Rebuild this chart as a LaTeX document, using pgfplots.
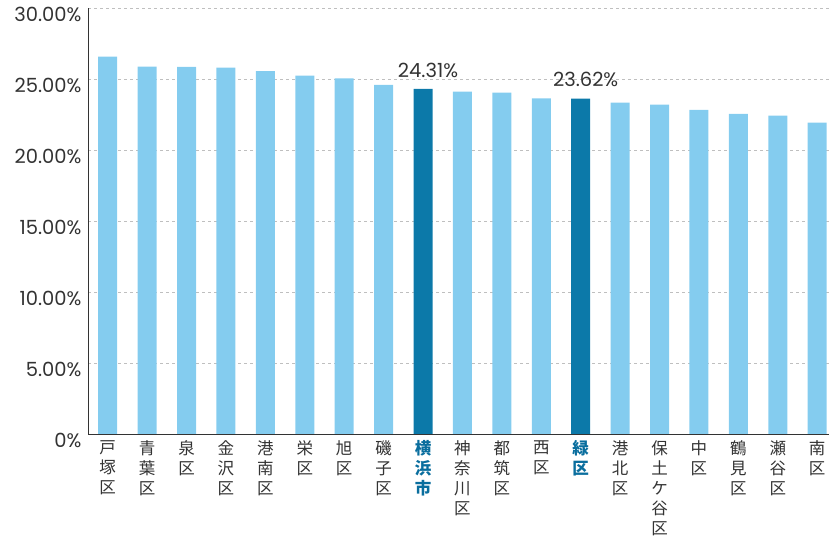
\documentclass[border=0pt]{standalone}
\usepackage{pgfplots}
\pgfplotsset{compat=1.18}
\usepackage{fontspec}
\setmainfont{Poppins}
\newfontfamily\cjk{Noto Sans CJK JP}
\definecolor{lightbar}{HTML}{84CCEF}
\definecolor{darkbar}{HTML}{0C79A9}
\definecolor{hl}{HTML}{0A6E9E}
\definecolor{txt}{HTML}{333333}
\newcommand{\hlb}[1]{{\color{hl}\bfseries #1}}
\begin{document}
\begin{tikzpicture}
\begin{axis}[
  scale only axis, width=741pt, height=426pt,
  xmin=-0.5, xmax=18.3, ymin=0, ymax=30,
  /pgf/number format/assume math mode=true,
  axis x line=bottom, axis y line=left,
  axis line style={-, draw=txt, line width=0.9pt},
  major tick length=0pt,
  ytick={0,5,10,15,20,25,30},
  yticklabels={0\%,5.00\%,10.00\%,15.00\%,20.00\%,25.00\%,30.00\%},
  yticklabel style={font=\fontsize{19.5}{22}\selectfont, text=txt, yshift=-6pt, xshift=-3pt},
  ymajorgrids, grid style={draw=black!25, dashed, line width=0.8pt},
  xtick={0,...,18},
  xticklabels={
    戸\\塚\\区, 青\\葉\\区, 泉\\区, 金\\沢\\区, 港\\南\\区, 栄\\区, 旭\\区, 磯\\子\\区,
    \hlb{横}\\\hlb{浜}\\\hlb{市},
    神\\奈\\川\\区, 都\\筑\\区, 西\\区,
    \hlb{緑}\\\hlb{区},
    港\\北\\区, 保\\土\\ケ\\谷\\区, 中\\区, 鶴\\見\\区, 瀬\\谷\\区, 南\\区},
  xticklabel style={font=\cjk\fontsize{16.5}{20}\selectfont, text=txt, align=center, anchor=north, yshift=-3pt},
  clip=false,
]
\addplot[ybar, bar width=19pt, bar shift=0pt, fill=lightbar, draw=none] coordinates {
  (0,26.57) (1,25.87) (2,25.86) (3,25.80) (4,25.56) (5,25.23) (6,25.05) (7,24.58)
  (9,24.11) (10,24.04) (11,23.64) (13,23.33) (14,23.19) (15,22.82) (16,22.54) (17,22.42) (18,21.92)
};
\addplot[ybar, bar width=19pt, bar shift=0pt, fill=darkbar, draw=none,
  nodes near coords={\pgfmathprintnumber[fixed,precision=2,fixed zerofill]{\pgfplotspointmeta}\%},
  every node near coord/.append style={font=\fontsize{19.5}{22}\selectfont, text=txt, anchor=south, yshift=8pt, xshift=5pt}
] coordinates {
  (8,24.31) (12,23.62)
};
\end{axis}
\pgfresetboundingbox
\path ([shift={(-88pt,-103pt)}]current axis.south west) rectangle ([shift={(0pt,8pt)}]current axis.north east);
\end{tikzpicture}
\end{document}
